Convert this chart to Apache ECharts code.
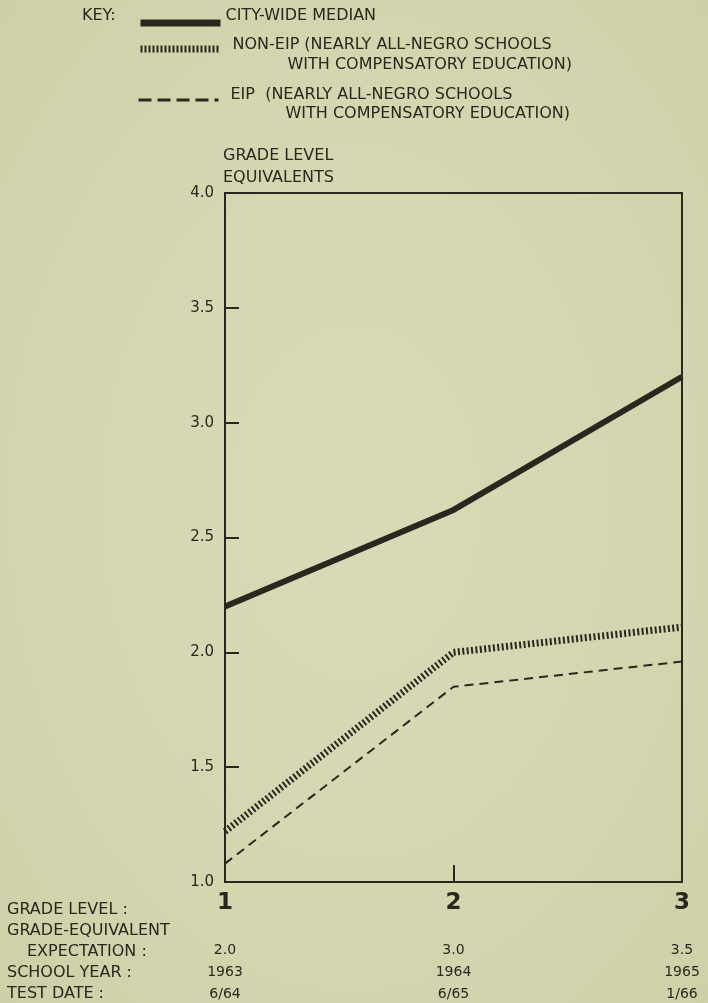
<!DOCTYPE html>
<html><head><meta charset="utf-8">
<script src="https://cdn.jsdelivr.net/npm/echarts@6/dist/echarts.min.js"></script>
<style>
html,body{margin:0;padding:0;}
body{background:radial-gradient(ellipse at 50% 50%, #dadab8 0%, #d5d5b0 60%, #cfcfa8 100%);}
#c{width:708px;height:1003px;}
</style>
</head><body><div id="c"></div>
<script>
// ---- data ----
const grades = [1, 2, 3];
const expectation = ['2.0', '3.0', '3.5'];
const schoolYears = ['1963', '1964', '1965'];
const testDates = ['6/64', '6/65', '1/66'];
const cityWide = [2.2, 2.62, 3.2];
const nonEip = [1.22, 2.0, 2.11];
const eip = [1.08, 1.85, 1.96];
const seriesNames = ['CITY-WIDE MEDIAN', 'NON-EIP', 'EIP'];
const legendLine1 = ['CITY-WIDE MEDIAN', 'NON-EIP (NEARLY ALL-NEGRO SCHOOLS', 'EIP  (NEARLY ALL-NEGRO SCHOOLS'];
const legendLine2 = ['', 'WITH COMPENSATORY EDUCATION)', 'WITH COMPENSATORY EDUCATION)'];
const rowLabels = ['GRADE LEVEL :', 'GRADE-EQUIVALENT', 'EXPECTATION :', 'SCHOOL YEAR :', 'TEST DATE :'];
const yAxisTitle = ['GRADE LEVEL', 'EQUIVALENTS'];

const INK = '#2a281e';
const FONT = 'DejaVu Sans';
const FS = 16;

const pts = s => grades.map((g, i) => [g, s[i]]);

const chart = echarts.init(document.getElementById('c'), null, {renderer: 'canvas'});

function legendText(i) {
  if (!legendLine2[i]) return '{a|' + legendLine1[i] + '}';
  return '{a|' + legendLine1[i] + '}\n{b|' + legendLine2[i] + '}';
}

const option = {
  backgroundColor: 'transparent',
  animation: false,
  textStyle: {fontFamily: FONT, color: INK},
  title: [
    {text: 'KEY:', left: 82, top: 8, padding: 0,
     textStyle: {fontFamily: FONT, fontSize: FS, fontWeight: 'normal', color: INK}},
    {text: yAxisTitle.join('\n'), left: 223, top: 145, padding: 0,
     textStyle: {fontFamily: FONT, fontSize: FS, fontWeight: 'normal', color: INK, lineHeight: 22}},
    {text: '{r|' + rowLabels[0] + '}\n{r|' + rowLabels[1] + '}\n{e|' + rowLabels[2] + '}\n{r|' + rowLabels[3] + '}\n{r|' + rowLabels[4] + '}',
     left: 7, top: 899, padding: 0,
     textStyle: {fontFamily: FONT, fontSize: FS, fontWeight: 'normal', color: INK,
       rich: {
         r: {fontFamily: FONT, fontSize: FS, color: INK, lineHeight: 21},
         e: {fontFamily: FONT, fontSize: FS, color: INK, lineHeight: 21, padding: [0, 0, 0, 20]}
       }}}
  ],
  legend: [
    {data: [seriesNames[0]], left: 137, top: 8, padding: 0, itemWidth: 80, itemHeight: 14, itemGap: 0,
     selectedMode: false, formatter: () => legendText(0),
     itemStyle: {opacity: 0}, lineStyle: {width: 7, type: 'solid', color: INK},
     textStyle: {fontFamily: FONT, fontSize: FS, color: INK, padding: [0, 0, 14, 0],
       rich: {a: {fontFamily: FONT, fontSize: FS, color: INK}}}},
    {data: [seriesNames[1]], left: 137, top: 37, padding: 0, itemWidth: 80, itemHeight: 14, itemGap: 0,
     selectedMode: false, formatter: () => legendText(1),
     itemStyle: {opacity: 0}, lineStyle: {width: 7, type: [2, 2], color: INK},
     textStyle: {fontFamily: FONT, fontSize: FS, color: INK, padding: [12, 0, 0, 7],
       rich: {a: {fontFamily: FONT, fontSize: FS, color: INK, lineHeight: 20},
              b: {fontFamily: FONT, fontSize: FS, color: INK, lineHeight: 20, padding: [0, 0, 0, 55]}}}},
    {data: [seriesNames[2]], left: 137, top: 87, padding: 0, itemWidth: 80, itemHeight: 14, itemGap: 0,
     selectedMode: false, formatter: () => legendText(2),
     itemStyle: {opacity: 0}, lineStyle: {width: 3, type: [13, 6], color: INK},
     textStyle: {fontFamily: FONT, fontSize: FS, color: INK, padding: [9, 0, 0, 7],
       rich: {a: {fontFamily: FONT, fontSize: FS, color: INK, lineHeight: 19},
              b: {fontFamily: FONT, fontSize: FS, color: INK, lineHeight: 19, padding: [0, 0, 0, 55]}}}}
  ],
  grid: {left: 225, right: 26, top: 193, bottom: 121, show: true,
         borderColor: INK, borderWidth: 2, backgroundColor: 'transparent'},
  xAxis: {
    type: 'value', min: 1, max: 3, interval: 1,
    splitLine: {show: false},
    axisLine: {show: true, lineStyle: {color: INK, width: 2}},
    axisTick: {show: true, inside: true, length: 17, lineStyle: {color: INK, width: 2}},
    axisLabel: {
      margin: 9,
      formatter: (v) => {
        const i = grades.indexOf(v);
        if (i < 0) return '';
        return '{g|' + grades[i] + '}\n{s| }\n{v|' + expectation[i] + '}\n{v|' + schoolYears[i] + '}\n{v|' + testDates[i] + '}';
      },
      rich: {
        g: {fontFamily: FONT, fontSize: 23, fontWeight: 'bold', color: INK, lineHeight: 24, align: 'center'},
        s: {fontSize: 10, lineHeight: 24},
        v: {fontFamily: FONT, fontSize: 14, color: INK, lineHeight: 22, align: 'center'}
      }
    }
  },
  yAxis: {
    type: 'value', min: 1, max: 4, interval: 0.5,
    splitLine: {show: false},
    axisLine: {show: true, lineStyle: {color: INK, width: 2}},
    axisTick: {show: true, inside: true, length: 14, lineStyle: {color: INK, width: 2}},
    axisLabel: {margin: 11, fontFamily: FONT, fontSize: 15, color: INK,
                formatter: v => v.toFixed(1)}
  },
  series: [
    {name: seriesNames[0], type: 'line', data: pts(cityWide), symbol: 'none',
     lineStyle: {color: INK, width: 6, type: 'solid'}, itemStyle: {color: INK}},
    {name: seriesNames[1], type: 'line', data: pts(nonEip), symbol: 'none',
     lineStyle: {color: INK, width: 7, type: [2, 2.4]}, itemStyle: {color: INK}},
    {name: seriesNames[2], type: 'line', data: pts(eip), symbol: 'none',
     lineStyle: {color: INK, width: 2, type: [9, 6]}, itemStyle: {color: INK}}
  ]
};
chart.setOption(option);
</script>
</body></html>
